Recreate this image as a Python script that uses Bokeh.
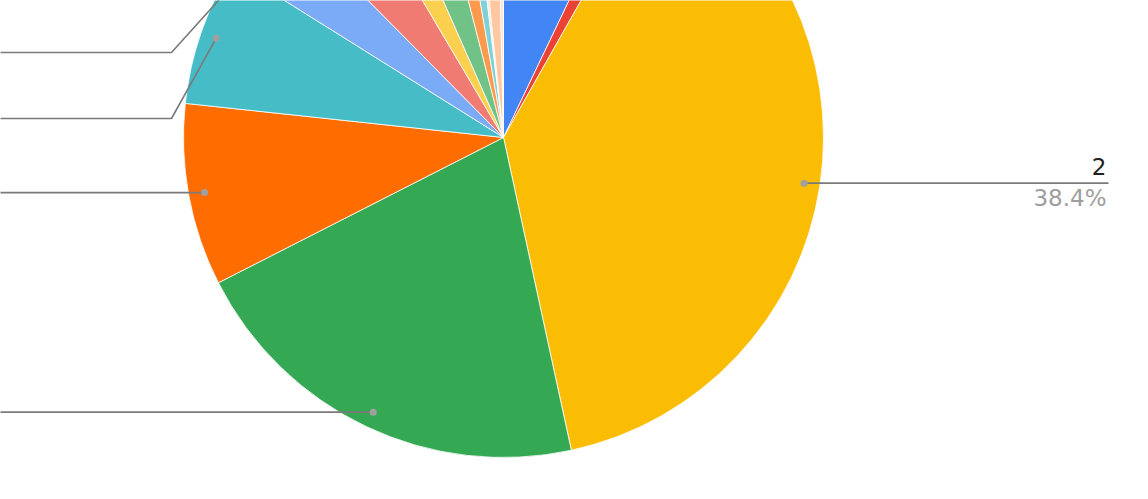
import numpy as np
from bokeh.plotting import figure
from bokeh.models import Range1d
from bokeh.embed import file_html
from bokeh.resources import INLINE
from bokeh.core.properties import value

# ---- data ----
categories = ["1", "10", "2", "3", "4", "5", "6", "7", "8", "9", "11", "12", "13", "14", "15"]
shares = [7.1, 1.1, 38.4, 20.9, 9.2, 7.2, 3.7, 3.9, 1.9, 2.6, 1.3, 0.8, 0.25, 1.3, 0.35]
colors = ["#4285F4", "#EA4335", "#FBBC04", "#34A853", "#FF6D01", "#46BDC6", "#7BAAF7",
          "#F07B72", "#FCD04F", "#71C287", "#FF994D", "#7ED1D7", "#F3E6E6", "#FFC8A0", "#F8E4DA"]

# labels whose leader lines are visible: category -> side
right_labels = ["2"]
left_labels = ["3", "4", "5", "6"]
# left labels pushed away from their slice (layout of the label column)
left_label_y = {"5": 118, "6": 52}

# ---- layout ----
W, H = 1140, 491
CX, CY = 503, -137          # pie centre in plot pixels (y up, negative downwards)
R = 320
DOT_R = 0.95 * R
RIGHT_END = 1108
ELBOW_X = 171
LEFT_END = -40

p = figure(width=W, height=H, output_backend="svg", toolbar_location=None,
           x_range=Range1d(0, W), y_range=Range1d(-H, 0), min_border=0)
p.axis.visible = False
p.grid.visible = False
p.outline_line_color = None
p.background_fill_color = "white"
p.border_fill_color = "white"

total = float(sum(shares))
cum = np.concatenate([[0.0], np.cumsum(shares)])
theta0 = cum[:-1] / total * 360.0   # clockwise from 12 o'clock
theta1 = cum[1:] / total * 360.0
start = np.radians(90.0 - theta1)
end = np.radians(90.0 - theta0)

p.wedge(x=CX, y=CY, radius=R, start_angle=list(start), end_angle=list(end),
        fill_color=colors, line_color="white", line_width=0.8)

mid = np.radians((theta0 + theta1) / 2.0)
dot_x = CX + DOT_R * np.sin(mid)
dot_y = CY + DOT_R * np.cos(mid)

line_col = "#7a7a7a"
dots_x, dots_y = [], []
for i, c in enumerate(categories):
    if c in right_labels:
        xs = [dot_x[i], RIGHT_END]
        ys = [dot_y[i], dot_y[i]]
        p.line(xs, ys, line_color=line_col, line_width=1.6)
        p.text(x=[RIGHT_END - 2], y=[dot_y[i] + 17], text=[c], text_align="right",
               text_baseline="alphabetic", text_font=value("DejaVu Sans"),
               text_font_size="23px", text_color="#222222")
        pct = f"{shares[i] / total * 100:.1f}%"
        p.text(x=[RIGHT_END - 2], y=[dot_y[i] - 15], text=[pct], text_align="right",
               text_baseline="alphabetic", text_font=value("DejaVu Sans"),
               text_font_size="23px", text_color="#9e9e9e")
        dots_x.append(dot_x[i]); dots_y.append(dot_y[i])
    elif c in left_labels:
        if c in left_label_y:
            ly = -left_label_y[c]
            xs = [dot_x[i], ELBOW_X, LEFT_END]
            ys = [dot_y[i], ly, ly]
        else:
            xs = [dot_x[i], LEFT_END]
            ys = [dot_y[i], dot_y[i]]
        p.line(xs, ys, line_color=line_col, line_width=1.6)
        dots_x.append(dot_x[i]); dots_y.append(dot_y[i])

p.scatter(dots_x, dots_y, size=7, fill_color="#a0a0a0", line_color=None)

open("out.html", "w").write(file_html(p, INLINE))
